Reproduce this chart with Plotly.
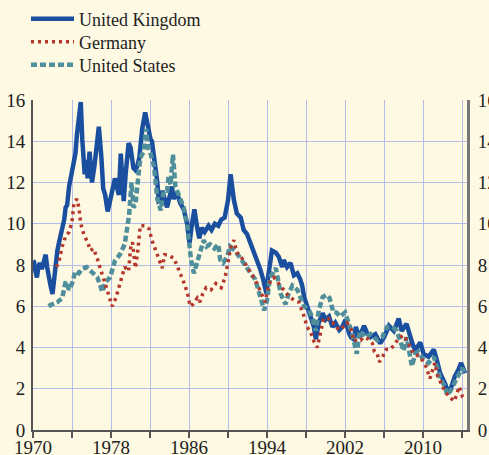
import plotly.graph_objects as go

# long-term government bond yields, %
uk_year = [1970.0, 1970.1, 1970.25, 1970.4, 1970.55, 1970.7, 1970.9, 1971.1, 1971.3, 1971.45, 1971.6, 1971.8,
           1972.0, 1972.15, 1972.3, 1972.5, 1972.65, 1972.85, 1973.0, 1973.2, 1973.35, 1973.5, 1973.7, 1973.85,
           1974.0, 1974.2, 1974.35, 1974.5, 1974.7, 1974.9, 1975.05, 1975.15, 1975.3, 1975.5, 1975.6, 1975.8,
           1976.05, 1976.3, 1976.5, 1976.75, 1977.0, 1977.2, 1977.4, 1977.65, 1977.85, 1978.1, 1978.4, 1978.6,
           1978.8, 1979.0, 1979.15, 1979.3, 1979.5, 1979.8, 1980.0, 1980.3, 1980.5, 1980.7, 1980.9, 1981.2,
           1981.5, 1981.7, 1982.05, 1982.2, 1982.4, 1982.6, 1982.75, 1982.9, 1983.1, 1983.25, 1983.5, 1983.75,
           1984.1, 1984.25, 1984.4, 1984.75, 1985.1, 1985.45, 1985.8, 1986.05, 1986.3, 1986.55, 1986.8, 1987.05,
           1987.3, 1987.6, 1988.0, 1988.3, 1988.65, 1989.0, 1989.3, 1989.65, 1990.0, 1990.26, 1990.45, 1990.6,
           1990.9, 1991.3, 1991.6, 1991.95, 1992.3, 1992.6, 1992.95, 1993.3, 1993.6, 1993.95, 1994.1, 1994.3,
           1994.5, 1994.9, 1995.2, 1995.55, 1995.7, 1996.05, 1996.4, 1996.75, 1997.1, 1997.4, 1997.6, 1997.8,
           1998.1, 1998.5, 1998.8, 1999.0, 1999.3, 1999.7, 2000.0, 2000.35, 2000.7, 2001.0, 2001.4, 2001.7,
           2002.05, 2002.4, 2002.6, 2002.9, 2003.1, 2003.45, 2003.95, 2004.3, 2004.6, 2005.1, 2005.6, 2006.0,
           2006.5, 2007.0, 2007.5, 2007.8, 2008.3, 2008.9, 2009.2, 2009.7, 2010.05, 2010.55, 2011.1, 2011.4,
           2011.75, 2012.25, 2012.6, 2012.9, 2013.25, 2013.6, 2013.9, 2014.3]
uk_yield = [8.2, 8.15, 7.7, 7.4, 7.9, 8.1, 7.8, 8.2, 8.5, 7.9, 7.4, 7.0,
            6.6, 7.4, 8.2, 8.7, 9.05, 9.4, 9.7, 10.2, 10.8, 10.9, 11.8, 12.2,
            12.7, 13.0, 13.4, 14.3, 14.95, 15.9, 14.1, 12.9, 12.4, 13.1, 12.2, 13.5,
            12.0, 12.8, 13.9, 14.7, 13.3, 11.7, 11.4, 10.6, 11.0, 11.55, 12.2, 11.8,
            11.4, 13.4, 12.2, 11.1, 12.4, 13.9, 13.7, 12.7, 12.6, 12.8, 13.2, 14.6,
            15.4, 14.9, 14.1, 14.0, 13.3, 12.2, 12.0, 11.1, 11.15, 11.6, 11.2, 10.8,
            11.5, 11.8, 11.2, 11.5, 11.0, 10.7, 10.0, 9.05, 10.0, 10.7, 9.9, 9.3,
            9.8, 9.6, 9.9, 9.7, 10.0, 9.9, 10.2, 10.3, 11.15, 12.4, 11.7, 11.15,
            10.5, 10.3, 9.7, 9.5, 9.05, 8.7, 8.2, 7.8, 7.3, 6.6, 7.4, 8.3,
            8.7, 8.6, 8.4, 7.9, 8.25, 7.9, 8.1, 7.5, 7.6, 7.3, 7.0, 6.45,
            6.0, 5.5, 5.0, 4.4, 5.2, 5.66, 5.35, 5.5, 5.0, 5.2, 4.85, 5.0,
            5.35, 4.7, 4.5, 4.4, 5.0, 4.5, 5.05, 4.65, 4.5, 4.65, 4.2, 4.5,
            5.05, 4.8, 5.4, 4.8, 5.15, 4.2, 3.85, 4.25, 3.7, 3.55, 3.9, 3.4,
            2.75, 2.25, 1.78, 2.1, 2.6, 2.9, 3.25, 2.75]

de_year = [1972.4, 1972.65, 1973.0, 1973.35, 1973.7, 1974.0, 1974.2, 1974.5, 1974.7, 1974.9, 1975.2, 1975.6,
           1975.9, 1976.2, 1976.6, 1976.9, 1977.25, 1977.6, 1978.1, 1978.5, 1978.8, 1979.1, 1979.4, 1979.8,
           1980.0, 1980.2, 1980.5, 1980.7, 1980.85, 1981.0, 1981.5, 1981.9, 1982.2, 1982.6, 1982.9, 1983.25,
           1983.5, 1983.75, 1984.1, 1984.4, 1984.75, 1985.2, 1985.6, 1985.9, 1986.1, 1986.4, 1986.85, 1987.1,
           1987.4, 1987.75, 1988.25, 1988.75, 1989.3, 1989.7, 1990.0, 1990.3, 1990.6, 1990.9, 1991.2, 1991.7,
           1992.2, 1992.75, 1993.25, 1993.6, 1993.8, 1994.2, 1994.7, 1995.2, 1995.7, 1996.2, 1996.75, 1997.25,
           1997.8, 1998.1, 1998.5, 1998.8, 1999.15, 1999.5, 1999.8, 2000.2, 2000.5, 2001.0, 2001.5, 2002.2,
           2002.6, 2002.9, 2003.25, 2003.6, 2003.9, 2004.4, 2004.8, 2005.0, 2005.3, 2005.5, 2005.8, 2006.2,
           2006.6, 2007.0, 2007.5, 2008.0, 2008.5, 2009.0, 2009.7, 2010.3, 2010.7, 2011.2, 2011.5, 2011.85,
           2012.2, 2012.7, 2013.2, 2013.7, 2014.05, 2014.3]
de_yield = [7.9, 8.15, 8.9, 9.4, 9.6, 10.1, 11.0, 11.2, 10.8, 10.0, 9.5, 9.1,
            8.7, 8.8, 8.3, 7.8, 7.3, 6.8, 6.0, 6.4, 6.9, 7.4, 7.9, 7.7,
            8.8, 9.1, 7.85, 8.5, 9.45, 9.9, 9.9, 9.75, 9.2, 8.7, 8.3, 7.85,
            8.5, 8.5, 8.4, 8.35, 8.0, 7.5, 7.0, 6.5, 6.0, 6.1, 6.4, 6.2,
            6.6, 6.9, 6.8, 7.1, 6.9, 7.4, 8.2, 8.9, 9.2, 8.6, 8.5, 8.1,
            7.7, 7.3, 6.8, 6.4, 6.2, 7.1, 7.4, 7.1, 6.8, 6.5, 6.3, 6.2,
            5.5, 5.0, 4.7, 4.3, 4.0, 4.85, 5.4, 5.4, 5.4, 5.0, 4.85, 5.2,
            4.9, 4.3, 4.4, 4.35, 4.5, 4.4, 4.2, 3.8, 3.7, 3.3, 3.5, 3.9,
            3.9, 4.1, 4.45, 4.6, 4.2, 3.7, 3.55, 3.07, 2.5, 3.25, 2.6, 2.25,
            1.9, 1.6, 1.4, 2.1, 1.6, 1.5]

us_year = [1971.6, 1971.8, 1972.5, 1973.0, 1973.35, 1973.7, 1974.0, 1974.35, 1974.7, 1975.0, 1975.5, 1975.7,
           1976.1, 1976.6, 1976.9, 1977.1, 1977.5, 1977.9, 1978.4, 1978.9, 1979.4, 1979.7, 1979.85, 1980.1,
           1980.3, 1980.5, 1980.7, 1981.0, 1981.35, 1981.6, 1981.8, 1982.05, 1982.4, 1982.6, 1982.75, 1983.1,
           1983.4, 1983.75, 1983.9, 1984.1, 1984.35, 1984.6, 1984.9, 1985.2, 1985.45, 1985.8, 1986.0, 1986.2,
           1986.5, 1986.8, 1987.15, 1987.5, 1987.8, 1988.15, 1988.6, 1989.0, 1989.2, 1989.5, 1989.9, 1990.2,
           1990.7, 1991.2, 1991.9, 1992.3, 1992.8, 1993.1, 1993.45, 1993.7, 1994.0, 1994.3, 1994.9, 1995.4,
           1995.9, 1996.2, 1996.6, 1997.1, 1997.4, 1997.8, 1998.3, 1998.6, 1999.0, 1999.3, 1999.7, 2000.1,
           2000.4, 2000.8, 2001.1, 2001.5, 2002.0, 2002.4, 2002.7, 2003.2, 2003.5, 2004.1, 2004.6, 2005.3,
           2005.8, 2006.3, 2006.85, 2007.3, 2008.0, 2008.3, 2008.85, 2009.2, 2009.5, 2010.05, 2010.55, 2011.1,
           2011.4, 2011.75, 2012.25, 2012.45, 2012.8, 2013.15, 2013.5, 2014.0, 2014.3]
us_yield = [6.0, 6.06, 6.2, 6.4, 7.2, 6.8, 7.1, 7.7, 7.6, 7.8, 7.9, 7.8,
            7.6, 7.4, 7.0, 6.7, 7.2, 7.4, 8.2, 8.5, 9.0, 9.8, 10.4, 12.0,
            10.8, 10.9, 11.9, 13.2, 13.5, 14.6, 13.7, 13.4, 12.8, 12.0, 11.2, 10.65,
            11.6, 11.6, 12.3, 11.9, 13.35, 11.8, 11.4, 11.0, 10.8, 10.0, 8.9, 8.25,
            7.6, 8.1, 8.6, 9.2, 8.9, 9.0, 8.8, 9.0, 8.25, 8.1, 8.4, 8.9,
            8.7, 8.4, 7.9, 7.6, 7.3, 6.8, 6.2, 5.8, 6.3, 7.4, 7.85, 6.6,
            6.1, 6.6, 7.0, 6.8, 6.45, 6.0, 5.8, 5.5, 4.8, 5.8, 6.45, 6.55,
            6.4, 5.7, 5.7, 5.5, 5.7, 5.1, 4.7, 3.7, 4.8, 4.5, 4.65, 4.35,
            4.5, 5.0, 5.0, 4.8, 3.85, 4.5, 3.1, 3.7, 3.8, 3.4, 3.25, 3.55,
            3.07, 2.5, 2.1, 1.7, 1.9, 2.25, 2.6, 3.0, 2.75]

x_ticks = list(range(1970, 2015, 4))
x_labels = [str(y) if (y - 1970) % 8 == 0 else "" for y in x_ticks]
y_ticks = list(range(0, 17, 2))

BG = "#fdf9e3"
GRID = "#b4bde9"
AXIS = "#555555"
FONT = "Liberation Serif, Times New Roman, serif"


def legend_box(top_px):
    # one legend per series so each row can sit where the original has it
    return dict(xref="container", yref="container", x=26 / 489, y=1 - top_px / 455,
                xanchor="left", yanchor="top", bgcolor="rgba(0,0,0,0)", itemwidth=43,
                font=dict(family=FONT, size=18, color="#222222"))


fig = go.Figure()
fig.add_trace(go.Scatter(x=uk_year, y=uk_yield, name="United Kingdom", mode="lines",
                         line=dict(color="#1a4fa0", width=4.5), legend="legend"))
fig.add_trace(go.Scatter(x=us_year, y=us_yield, name="United States", mode="lines",
                         line=dict(color="#4f8e9b", width=4.5, dash="6px,3px"), legend="legend3"))
fig.add_trace(go.Scatter(x=de_year, y=de_yield, name="Germany", mode="lines",
                         line=dict(color="#b5382d", width=3.5, dash="3px,4px"), legend="legend2"))
# invisible trace to carry the right-hand axis
fig.add_trace(go.Scatter(x=[1970], y=[0], yaxis="y2", mode="lines", showlegend=False,
                         hoverinfo="skip", line=dict(width=0)))

fig.update_layout(
    width=489, height=455,
    margin=dict(l=33, r=22, t=100, b=25, autoexpand=False),
    paper_bgcolor=BG, plot_bgcolor=BG,
    font=dict(family=FONT, size=19, color="#222222"),
    showlegend=True,
    legend=legend_box(0.5),
    legend2=legend_box(23.5),
    legend3=legend_box(46.5),
    xaxis=dict(range=[1970, 2014.5], tickvals=x_ticks, ticktext=x_labels,
               showgrid=True, gridcolor=GRID, gridwidth=1.3,
               showline=True, linecolor=AXIS, linewidth=2,
               ticks="outside", ticklen=6, tickwidth=2, tickcolor=AXIS, zeroline=False,
               ticklabelstandoff=-7),
    yaxis=dict(range=[0, 16], tickvals=y_ticks, showgrid=True, gridcolor=GRID, gridwidth=1.3,
               showline=True, linecolor=AXIS, linewidth=2, ticks="", zeroline=False,
               ticklabelstandoff=2),
    yaxis2=dict(range=[0, 16], tickvals=y_ticks, overlaying="y", side="right",
                showgrid=False, showline=True, linecolor="#777777", linewidth=3, ticks="",
                zeroline=False, ticklabelstandoff=4),
)

# drop the page's default body margin so the figure sits at the window's corner
fig.write_html("out.html", config={"displayModeBar": False},
               post_script="document.body.style.margin='0';")
